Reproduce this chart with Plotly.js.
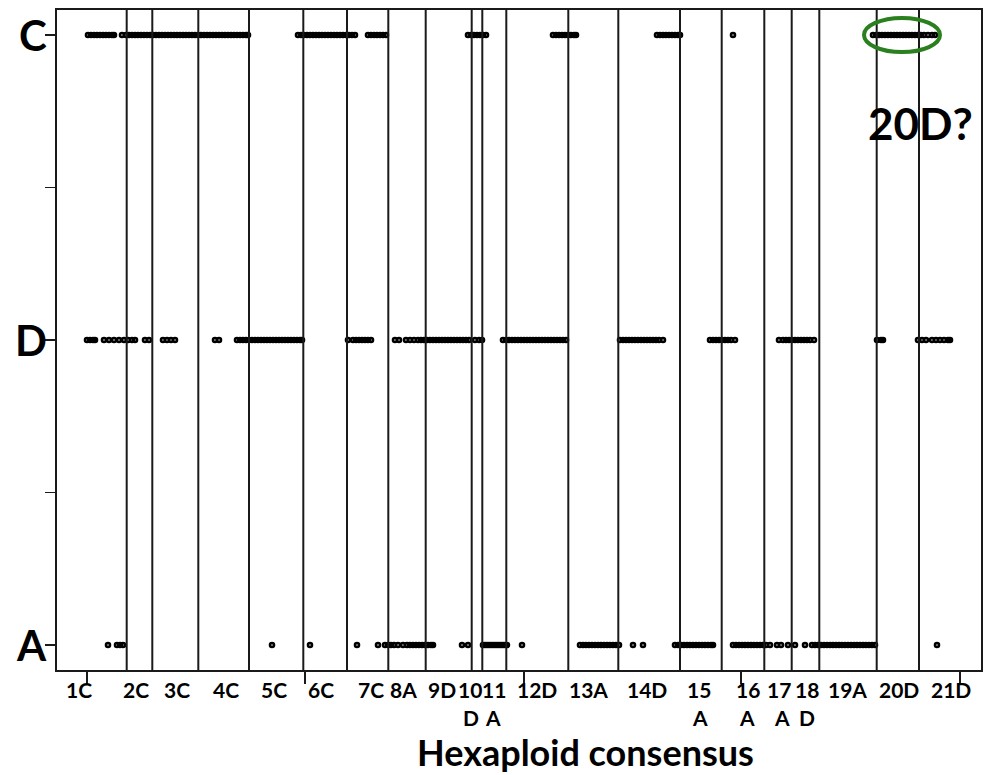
<!DOCTYPE html>
<html>
<head>
<meta charset="utf-8">
<script src="https://cdn.plot.ly/plotly-3.0.1.min.js"></script>
<style>html,body{margin:0;padding:0;background:#fff;}#chart{width:990px;height:775px;}</style>
</head>
<body>
<div id="chart"></div>
<script>
// Position along the hexaploid consensus map (x) for markers assigned to each sub-genome row
const rowNames = ['A', 'D', 'C'];
const rowValues = [0, 1, 2];

const xC = [31,34,37,40,43,46,49,52,55,57,
  65,69,72,75,78,81,84,87,90,93,96,99,102,105,108,111,114,117,120,123,126,129,132,135,138,141,144,147,150,153,156,159,162,165,168,171,174,177,180,183,186,189,191,
  241,244,247,250,253,256,259,262,265,268,271,274,277,280,283,286,289,292,295,298,
  311,314,317,320,323,326,329,
  411,414,417,420,423,426,429,
  496,499,502,505,508,511,514,517,519,
  600,603,606,609,612,615,618,621,623,
  676,
  816,819,822,825,828,831,834,837,840,843,846,849,852,855,858,861,864,867,871,875,878];

const xD = [30,33,36,38, 47,52,57,62,67,71,75,78, 88,92, 106,110,114,118, 158,162,
  180,183,186,189,192,195,198,201,204,207,210,213,216,219,222,225,228,231,234,237,240,243,245,
  291,296,299,302,305,308,311,314,
  338,342, 349,353,357,
  361,364,367,370,373,376,379,382,385,388,391,394,397,400,403,406,409,412,
  418,422,425,
  446,449,452,455,458,461,464,467,470,473,476,479,482,485,488,491,494,497,500,503,506,509,
  563,566,569,572,575,578,581,584,587,590,593,596,599,602,606,
  653,656,659,662,665,668,671,674,678,
  722,726,729,732,735,738,741,744,747,750,753,757,
  820,824,826, 861,865,869, 875,879,883,887,891,893];

const xA = [51,60,63,66, 215, 253, 300, 321, 328,331,334,337, 341,346,350, 353,
  356,359,362,365,368,371,374,376, 405,411,
  426,428,430,432,434,436,438,440,442,444,446,448,450,
  465,
  523,526,529,532,535,538,541,544,547,550,553,556,559,562,
  576,586,
  618,621,624,627,630,633,636,639,642,645,648,651,654,656,
  676,679,682,685,688,691,694,697,700,703,706,709,
  713,720,724,731,738, 748,
  755,758,761,764,767,770,773,776,779,782,785,788,791,794,797,800,803,806,809,812,815,818,
  880];

// Chromosome boundaries on the consensus map
const boundaries = [69.7,95.3,141.3,192,246.3,290,331.3,368.7,414.7,425.3,449.3,511.3,561.3,623,664.7,707.3,734.7,762.3,819.7,862];

// Chromosome labels (first line) and their positions
const chromLabels = ['1C','2C','3C','4C','5C','6C','7C','8A','9D','10','11','12D','13A','14D','15','16','17','18','19A','20D','21D'];
const chromLabelPos = [22,79,120,169,217,264,314,346,385,413,437,480,531,590,642,691,722,750,790,842,894];
// Sub-genome letters printed on a second line under some chromosome numbers
const subLabels = ['D','A','A','A','A','D'];
const subLabelPos = [414,436,643,690,725,750];

// Axis tick positions
const xTickVals = [30,248,467,684,903];
const yTickVals = [0,0.5,1,1.5,2];

const FONT = 'Lato, "Open Sans", "DejaVu Sans", sans-serif';
const marker = {symbol:'circle-open', size:4, color:'#000', line:{width:2.6, color:'#000'}};

const traces = [
  {x:xA, y:xA.map(()=>rowValues[0]), mode:'markers', type:'scatter', marker:marker, name:rowNames[0], hoverinfo:'x'},
  {x:xD, y:xD.map(()=>rowValues[1]), mode:'markers', type:'scatter', marker:marker, name:rowNames[1], hoverinfo:'x'},
  {x:xC, y:xC.map(()=>rowValues[2]), mode:'markers', type:'scatter', marker:marker, name:rowNames[2], hoverinfo:'x'}
];

const shapes = boundaries.map(b => ({type:'line', xref:'x', yref:'paper', x0:b, x1:b, y0:0, y1:1, line:{color:'#1a1a1a', width:2}}));
shapes.push({type:'circle', xref:'x', yref:'y', x0:807, x1:883, y0:1.944, y1:2.056, line:{color:'#2a7f1e', width:4}});

const annotations = chromLabels.map((t,i) => ({
  text:'<b>'+t+'</b>', x:chromLabelPos[i], xref:'x', y:-0.0303, yref:'paper', yanchor:'middle', xanchor:'center',
  showarrow:false, font:{family:FONT, size:21, color:'#000'}
}));
subLabels.forEach((t,i) => annotations.push({
  text:'<b>'+t+'</b>', x:subLabelPos[i], xref:'x', y:-0.0727, yref:'paper', yanchor:'middle', xanchor:'center',
  showarrow:false, font:{family:FONT, size:21, color:'#000'}
}));
// Row (sub-genome) labels on the y axis
rowNames.forEach((n,i) => annotations.push({
  text:'<b>'+n+'</b>', x:0, xref:'paper', xanchor:'right', xshift:-8, y:rowValues[i], yref:'y', yanchor:'middle',
  showarrow:false, font:{family:FONT, size:42, color:'#000'}
}));
annotations.push({text:'<b>Hexaploid consensus</b>', x:528, xref:'x', y:-0.1242, yref:'paper', yanchor:'middle', xanchor:'center',
  showarrow:false, font:{family:FONT, size:36, color:'#000'}});
annotations.push({text:'<b>20D?</b>', x:863, xref:'x', y:1.71, yref:'y', xanchor:'center', yanchor:'middle',
  showarrow:false, font:{family:FONT, size:44, color:'#000'}});

const layout = {
  width:990, height:775,
  margin:{l:57, r:9, t:10, b:105},
  paper_bgcolor:'#fff', plot_bgcolor:'#fff',
  showlegend:false,
  xaxis:{range:[0,924], tickvals:xTickVals, ticktext:xTickVals.map(()=>''), ticks:'outside', ticklen:12, tickwidth:1.5, tickcolor:'#1a1a1a',
    showgrid:false, zeroline:false, showline:true, mirror:true, linecolor:'#1a1a1a', linewidth:2, fixedrange:true},
  yaxis:{range:[-0.082,2.082], tickvals:yTickVals, ticktext:yTickVals.map(()=>''), ticks:'outside', ticklen:10, tickwidth:1.5, tickcolor:'#1a1a1a',
    showgrid:false, zeroline:false, showline:true, mirror:true, linecolor:'#1a1a1a', linewidth:2, fixedrange:true},
  shapes:shapes,
  annotations:annotations
};

Plotly.newPlot('chart', traces, layout, {staticPlot:true, displayModeBar:false});
</script>
</body>
</html>
